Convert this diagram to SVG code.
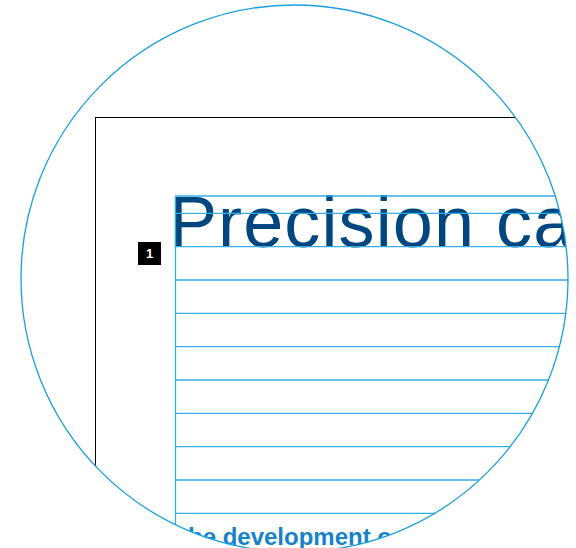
<svg xmlns="http://www.w3.org/2000/svg" width="576" height="548" viewBox="0 0 576 548">
<style>
.guide{stroke:#36ace4;stroke-width:1.3;fill:none}
.frame{stroke:#000;stroke-width:1;fill:none}
.title{font-family:"Liberation Sans",Arial,sans-serif;font-size:72px;fill:#00467f;letter-spacing:1.1px}
.body{font-family:"Liberation Sans",Arial,sans-serif;font-size:24px;font-weight:bold;fill:#1683c6}
.badge{fill:#000}
.badgetxt{font-family:"Liberation Sans",Arial,sans-serif;font-size:13px;font-weight:bold;fill:#fff}
</style>
<defs>
<clipPath id="lens"><circle cx="294.5" cy="278.5" r="273.5"/></clipPath>
</defs>
<rect width="576" height="548" fill="#fff"/>
<g clip-path="url(#lens)">
  <g id="page">
    <rect class="frame" x="95.5" y="117.5" width="600" height="600"/>
  </g>
  <g id="title">
    <text class="title" x="169" y="247">Precision ca</text>
  </g>
  <g id="body">
    <text class="body" x="180" y="545">the development o</text>
  </g>
  <g id="grid">
    <path class="guide" d="M175 196H580M175 213.3H580M175 246.7H580M175 280H580M175 313.3H580M175 346.7H580M175 380H580M175 413.3H580M175 446.7H580M175 480H580M175 513.3H580M175.5 195.5V548"/>
  </g>
  <g id="marker1">
    <rect class="badge" x="138" y="242" width="23" height="23"/>
    <text class="badgetxt" x="149.5" y="258" text-anchor="middle">1</text>
  </g>
</g>
<g id="lens-outline">
  <circle cx="294.5" cy="278.5" r="273.5" fill="none" stroke="#1a9fdc" stroke-width="1.3"/>
</g>
</svg>
